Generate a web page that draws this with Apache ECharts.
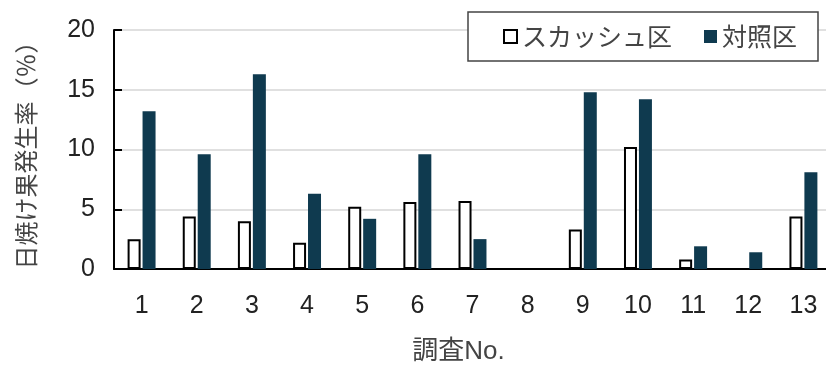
<!DOCTYPE html>
<html>
<head>
<meta charset="utf-8">
<script src="https://cdn.jsdelivr.net/npm/echarts@6/dist/echarts.min.js"></script>
<style>
  html, body { margin: 0; padding: 0; background: #fff; }
  #main { width: 826px; height: 365px; }
</style>
</head>
<body>
<div id="main"></div>
<script>
// 調査No.
const categories = ['1', '2', '3', '4', '5', '6', '7', '8', '9', '10', '11', '12', '13'];
// 日焼け果発生率(%)
const squashValues = [2.5, 4.4, 4.0, 2.2, 5.2, 5.6, 5.7, 0, 3.3, 10.2, 0.8, 0, 4.4];
const controlValues = [13.2, 9.6, 16.3, 6.3, 4.2, 9.6, 2.5, 0, 14.8, 14.2, 1.9, 1.4, 8.1];
const yTicks = [0, 5, 10, 15, 20];

const font = "'Liberation Sans', 'Noto Sans CJK JP', sans-serif";
const textColor = '#222';
const nameColor = '#444';

const chart = echarts.init(document.getElementById('main'), null, { renderer: 'canvas' });

let option = {
  backgroundColor: '#fff',
  animation: false,
  textStyle: { fontFamily: font },
  legend: {
    left: 468,
    top: 12,
    padding: [12, 21, 12, 35],
    itemGap: 32,
    itemWidth: 13,
    itemHeight: 13,
    icon: 'rect',
    backgroundColor: '#fff',
    borderColor: '#444',
    borderWidth: 1.5,
    borderRadius: 0,
    textStyle: { fontSize: 25, color: nameColor, fontFamily: 'Noto Sans CJK JP' },
    data: ['スカッシュ区', '対照区']
  },
  grid: {
    left: 114,
    top: 30,
    bottom: 96,
    right: -5,
    outerBoundsMode: 'none'
  },
  xAxis: {
    type: 'category',
    data: categories,
    name: '調査No.',
    nameLocation: 'middle',
    nameGap: 70,
    nameTextStyle: { fontSize: 26, color: nameColor, fontFamily: font, padding: [0, 28, 0, 0] },
    axisLine: { lineStyle: { color: '#000', width: 2 } },
    axisTick: { inside: true, length: 8, lineStyle: { color: '#000', width: 2 } },
    axisLabel: { fontSize: 25, color: textColor, margin: 25, fontFamily: font }
  },
  yAxis: {
    type: 'value',
    min: yTicks[0],
    max: yTicks[yTicks.length - 1],
    interval: 5,
    name: '日焼け果発生率（％）',
    nameLocation: 'middle',
    nameRotate: 90,
    nameGap: 76,
    nameTextStyle: { fontSize: 24, color: nameColor, fontFamily: 'Noto Sans CJK JP' },
    axisLine: { show: true, lineStyle: { color: '#000', width: 2 } },
    axisTick: { show: true, inside: true, length: 8, lineStyle: { color: '#000', width: 2 } },
    axisLabel: { fontSize: 25, color: textColor, margin: 19, fontFamily: font },
    splitLine: { lineStyle: { color: '#d6d6d6', width: 1.5 } }
  },
  series: [
    {
      name: 'スカッシュ区',
      type: 'bar',
      data: squashValues,
      barWidth: 13,
      barGap: '15%',
      itemStyle: { color: '#fff', borderColor: '#000', borderWidth: 2 }
    },
    {
      name: '対照区',
      type: 'bar',
      data: controlValues,
      barWidth: 13,
      barGap: '15%',
      itemStyle: { color: '#0f3a4f' }
    }
  ]
};

chart.setOption(option);
</script>
</body>
</html>
